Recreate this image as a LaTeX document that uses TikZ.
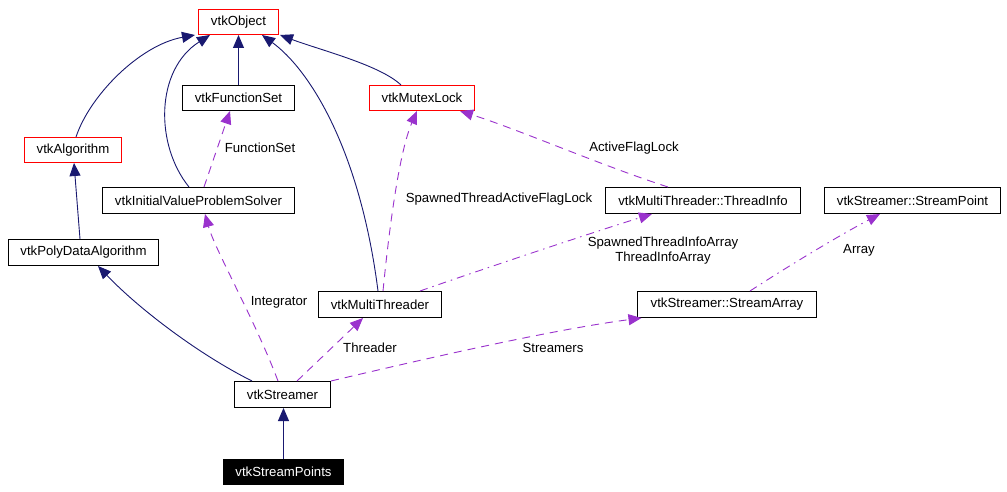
\documentclass[tikz,border=0pt]{standalone}
\usepackage{fontspec}
\setmainfont{Liberation Sans}
\usetikzlibrary{arrows.meta}
\definecolor{inh}{HTML}{191970}
\definecolor{use}{HTML}{9A32CD}
\begin{document}
\begin{tikzpicture}[x=1pt,y=-1pt,
  every node/.style={font=\fontsize{13.2}{15}\selectfont, inner sep=0pt},
  cls/.style={draw=black, line width=1pt, fill=white, minimum height=25pt},
  redcls/.style={cls, draw=red},
  curcls/.style={cls, fill=black, text=white},
  inhedge/.style={draw=inh, line width=0.9pt, -{Triangle[length=13pt,width=11pt]}},
  useedge/.style={draw=use, line width=0.9pt, dash pattern=on 8pt off 6pt, -{Triangle[length=13pt,width=11pt]}},
  usedot/.style={draw=use, line width=0.9pt, dash pattern=on 8pt off 5pt on 1.5pt off 5pt, -{Triangle[length=13pt,width=11pt]}},
  lbl/.style={fill=none}
]
\useasboundingbox (0,0) rectangle (1007,492);
\fill[white] (0,0) rectangle (1007,492);

\node[redcls, minimum width=80pt] (obj) at (238.5,22) {vtkObject};
\node[cls, minimum width=112pt] (fs) at (238.5,98) {vtkFunctionSet};
\node[redcls, minimum width=105pt] (mutex) at (422,98) {vtkMutexLock};
\node[redcls, minimum width=97pt] (alg) at (73,150) {vtkAlgorithm};
\node[cls, minimum width=192pt, minimum height=26pt] (ivps) at (198.5,200.5) {vtkInitialValueProblemSolver};
\node[cls, minimum width=150pt, minimum height=26pt] (pda) at (83.5,252.5) {vtkPolyDataAlgorithm};
\node[cls, minimum width=123pt, minimum height=26pt] (mt) at (380,304.5) {vtkMultiThreader};
\node[cls, minimum width=96pt, minimum height=26pt] (str) at (282.5,394.5) {vtkStreamer};
\node[curcls, minimum width=120pt] (spts) at (283.5,472) {vtkStreamPoints};
\node[cls, minimum width=195pt, minimum height=26pt] (ti) at (703,200.5) {vtkMultiThreader::ThreadInfo};
\node[cls, minimum width=176pt, minimum height=26pt] (sp) at (912.5,200.5) {vtkStreamer::StreamPoint};
\node[cls, minimum width=179pt, minimum height=26pt] (sa) at (727,304.5) {vtkStreamer::StreamArray};

% inheritance
\draw[inhedge] ([xshift=3pt]alg.north) .. controls (90,95) and (140,45) .. ([xshift=-43.5pt]obj.south);
\draw[inhedge] ([xshift=-9.5pt]ivps.north) .. controls (155,145) and (155,70) .. ([xshift=-28.5pt]obj.south);
\draw[inhedge] (fs.north) -- (obj.south);
\draw[inhedge] ([xshift=-2pt]mt.north) .. controls (360,150) and (310,70) .. ([xshift=23.5pt]obj.south);
\draw[inhedge] ([xshift=-21pt]mutex.north) .. controls (380,65) and (320,50) .. ([xshift=41.5pt]obj.south);
\draw[inhedge] ([xshift=-3.5pt]pda.north) -- ([xshift=1pt]alg.south);
\draw[inhedge] ([xshift=-30.5pt]str.north) .. controls (200,355) and (140,310) .. ([xshift=14.5pt]pda.south);
\draw[inhedge] (spts.north) -- ([xshift=1pt]str.south);

% usage
\draw[useedge] ([xshift=5.5pt]ivps.north) -- ([xshift=-8.5pt]fs.south);
\draw[useedge] ([xshift=-4.5pt]str.north) .. controls (255,320) and (215,250) .. ([xshift=6.5pt]ivps.south);
\draw[useedge] ([xshift=3pt]mt.north) .. controls (390,220) and (400,150) .. ([xshift=-5pt]mutex.south);
\draw[useedge] ([xshift=-35pt]ti.north) .. controls (600,165) and (520,130) .. ([xshift=38pt]mutex.south);
\draw[usedot] ([xshift=40pt]mt.north) .. controls (480,270) and (600,230) .. ([xshift=-51pt]ti.south);
\draw[useedge] ([xshift=14.5pt]str.north) -- ([xshift=-17pt]mt.south);
\draw[useedge] (str.north east) .. controls (420,360) and (550,330) .. ([xshift=4.5pt]sa.south west);
\draw[usedot] ([xshift=23pt]sa.north) .. controls (790,265) and (840,235) .. ([xshift=-32.5pt]sp.south);

% labels
\node[lbl] (lfs) at (260,148) {FunctionSet};
\node[lbl] (lstafl) at (499,199) {SpawnedThreadActiveFlagLock};
\node[lbl] (lafl) at (634,148) {ActiveFlagLock};
\node[lbl, align=center] (ltia) at (663,251) {SpawnedThreadInfoArray\\ThreadInfoArray};
\node[lbl] (larr) at (859,250) {Array};
\node[lbl] (lint) at (279,302) {Integrator};
\node[lbl] (lthr) at (370,348) {Threader};
\node[lbl] (lstr) at (553,348) {Streamers};
\end{tikzpicture}
\end{document}
